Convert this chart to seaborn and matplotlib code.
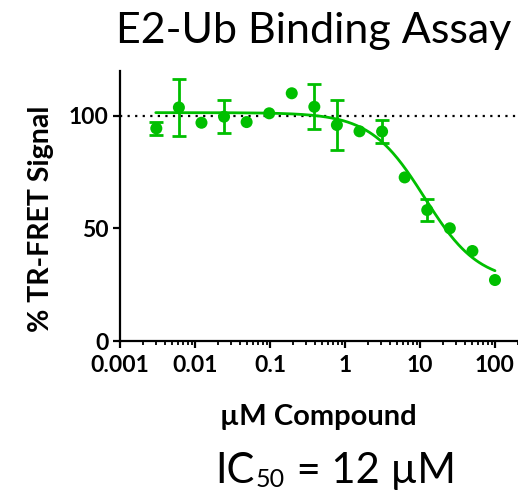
import numpy as np
import pandas as pd
import matplotlib
matplotlib.use("Agg")
import matplotlib.pyplot as plt
import seaborn as sns
from matplotlib.ticker import LogLocator, NullFormatter, FixedLocator, FixedFormatter

# ---- data ----
conc_uM = [0.00305, 0.0061, 0.0122, 0.0244, 0.0488, 0.0977, 0.195, 0.39,
           0.78, 1.5625, 3.125, 6.25, 12.5, 25, 50, 100]
signal_pct = [94.5, 103.8, 97.0, 99.7, 97.3, 101.2, 110.1, 104.1,
              96.0, 93.2, 93.1, 72.7, 58.2, 50.1, 40.0, 27.1]
err_pct = [2.8, 12.5, 0, 7.3, 0, 0, 0, 10.0,
           11.3, 0, 5.2, 0, 4.9, 0, 0, 0]

# fitted 4-parameter logistic curve parameters (as drawn)
fit_top, fit_bottom, fit_ic50, fit_hill = 101.5, 26.0, 11.5, 1.2
fit_range = (0.003, 100)

x_ticks = [0.001, 0.01, 0.1, 1, 10, 100]
x_ticklabels = ["0.001", "0.01", "0.1", "1", "10", "100"]
y_ticks = [0, 50, 100]
y_ticklabels = ["0", "50", "100"]

title = "E2-Ub Binding Assay"
xlabel = "\u00b5M Compound"
ylabel = "% TR-FRET Signal"
ic50_parts = ["IC", "50", " = 12 \u00b5M"]

green = "#00BF00"

sns.set_theme(style="ticks")
plt.rcParams["font.family"] = ["Lato", "DejaVu Sans"]

W, H = 518, 494
fig = plt.figure(figsize=(W / 100, H / 100), dpi=100)
fig.patch.set_facecolor("white")
ax = fig.add_axes([120 / W, 153 / H, 398 / W, 270 / H])
ax.set_facecolor("white")

df = pd.DataFrame({"conc": conc_uM, "signal": signal_pct, "err": err_pct})
xs = np.logspace(np.log10(fit_range[0]), np.log10(fit_range[1]), 300)
curve = pd.DataFrame({
    "conc": xs,
    "signal": fit_bottom + (fit_top - fit_bottom) / (1 + (xs / fit_ic50) ** fit_hill),
})

ax.set_xscale("log")
ax.set_xlim(0.001, 10 ** 2.307)
ax.set_ylim(0, 120)

# reference dotted line at 100%
ax.axhline(100, color="black", lw=1.6, ls=(0, (1, 2.4)), zorder=1)

sns.lineplot(data=curve, x="conc", y="signal", ax=ax, color=green, lw=2.0,
             zorder=2, legend=False)

eb = df[df["err"] > 0]
ax.errorbar(eb["conc"], eb["signal"], yerr=eb["err"], fmt="none",
            ecolor=green, elinewidth=2.0, capsize=5, capthick=2.0, zorder=3)

sns.scatterplot(data=df, x="conc", y="signal", ax=ax, color=green, s=75,
                edgecolor="none", linewidth=0, zorder=4, legend=False)

# axes styling
for side in ("top", "right"):
    ax.spines[side].set_visible(False)
for side in ("left", "bottom"):
    ax.spines[side].set_linewidth(1.6)
    ax.spines[side].set_color("black")

ax.xaxis.set_major_locator(FixedLocator(x_ticks))
ax.xaxis.set_major_formatter(FixedFormatter(x_ticklabels))
ax.xaxis.set_minor_locator(LogLocator(base=10, subs=np.arange(2, 10), numticks=20))
ax.xaxis.set_minor_formatter(NullFormatter())
ax.yaxis.set_major_locator(FixedLocator(y_ticks))
ax.yaxis.set_major_formatter(FixedFormatter(y_ticklabels))

ax.tick_params(axis="both", which="major", direction="out", length=5,
               width=1.6, color="black", labelsize=16.5, labelcolor="black")
ax.tick_params(axis="x", which="minor", direction="out", length=3,
               width=1.3, color="black")
ax.tick_params(axis="x", which="major", pad=5)
ax.tick_params(axis="y", which="major", pad=3)
for lab in ax.get_xticklabels() + ax.get_yticklabels():
    lab.set_fontweight("bold")

ax.set_xlabel(xlabel, fontsize=21, fontweight="bold", color="black")
ax.xaxis.label.set_va("baseline")
ax.xaxis.set_label_coords((318 - 120) / 398, (341 - 425) / 270)
ax.set_ylabel(ylabel, fontsize=20.5, fontweight="bold", color="black")
ax.yaxis.label.set_va("center")
ax.yaxis.set_label_coords((41 - 120) / 398, (341 - 219) / 270)

fig.text(314 / W, 1 - 43 / H, title, ha="center", va="baseline",
         fontsize=31, color="black")

# IC50 annotation with a low subscript, built piece by piece
renderer = fig.canvas.get_renderer()
x_px = 215.0
sizes = [30, 18, 30]
baselines = [483, 487, 483]
for part, fs, bl in zip(ic50_parts, sizes, baselines):
    t = fig.text(x_px / W, 1 - bl / H, part, ha="left", va="baseline",
                 fontsize=fs, color="black")
    bb = t.get_window_extent(renderer=renderer)
    x_px = bb.x1 + 1

fig.savefig("out.png", dpi=100, facecolor="white")
